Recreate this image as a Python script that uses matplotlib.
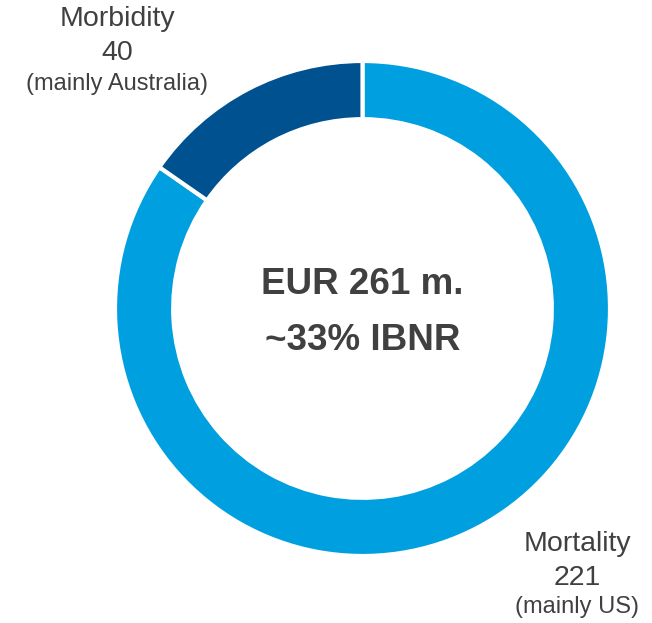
import matplotlib
matplotlib.use("Agg")
import matplotlib.pyplot as plt

# data
segments = ["Mortality", "Morbidity"]
values = [221, 40]
notes = ["(mainly US)", "(mainly Australia)"]
colors = ["#009fe0", "#00518f"]
center_lines = ["EUR 261 m.", "~33% IBNR"]

W, H = 652, 623
plt.rcParams['font.family'] = ['Liberation Sans', 'DejaVu Sans']
grey = "#404040"

fig = plt.figure(figsize=(W / 100, H / 100), dpi=100)

# donut: centre (362.5, 308.5) px, radius 247.5 px
cx, cy, r = 362.5, 308.5, 247.5
ax = fig.add_axes([(cx - r) / W, (H - cy - r) / H, 2 * r / W, 2 * r / H])
ax.pie(values, colors=colors, startangle=90, counterclock=False, radius=1,
       wedgeprops=dict(width=0.235, edgecolor="white", linewidth=3))
ax.set_xlim(-1, 1)
ax.set_ylim(-1, 1)
ax.set_aspect("equal")
ax.axis("off")

def px(x, y):
    return x / W, 1 - y / H

# centre text
fig.text(*px(cx, 285), center_lines[0], ha="center", va="center",
         fontsize=26.5, fontweight="bold", color=grey)
fig.text(*px(cx, 340), center_lines[1], ha="center", va="center",
         fontsize=26.5, fontweight="bold", color=grey)

# Morbidity label (top left)
fig.text(*px(117, 19), segments[1], ha="center", va="center", fontsize=20.5, color=grey)
fig.text(*px(117, 53), str(values[1]), ha="center", va="center", fontsize=20.5, color=grey)
fig.text(*px(117, 84), notes[1], ha="center", va="center", fontsize=17, color=grey)

# Mortality label (bottom right)
fig.text(*px(577, 544), segments[0], ha="center", va="center", fontsize=20.5, color=grey)
fig.text(*px(577, 578), str(values[0]), ha="center", va="center", fontsize=20.5, color=grey)
fig.text(*px(577, 607), notes[0], ha="center", va="center", fontsize=17, color=grey)

fig.savefig("out.png", dpi=100)
